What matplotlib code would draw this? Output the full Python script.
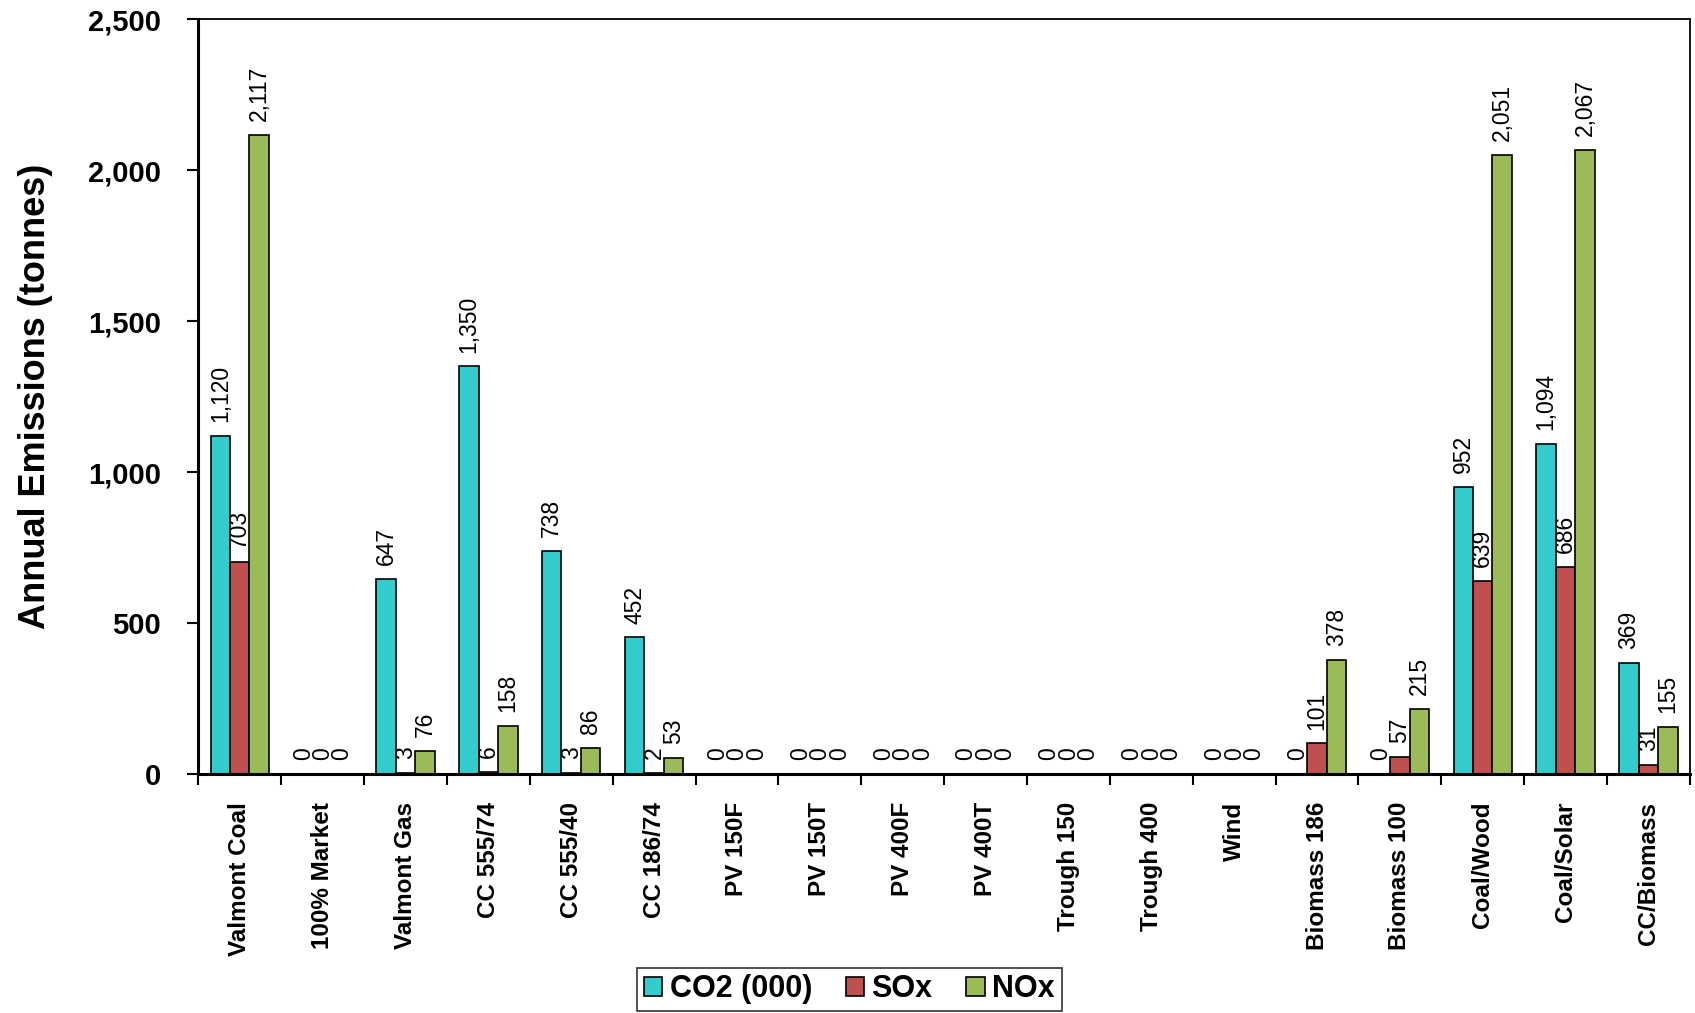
import numpy as np
import matplotlib
import matplotlib.pyplot as plt

matplotlib.use('Agg')

plt.rcParams['font.family'] = ['Liberation Sans', 'DejaVu Sans']

# Annual emissions by supply option
options = ['Valmont Coal', '100% Market', 'Valmont Gas', 'CC 555/74', 'CC 555/40',
           'CC 186/74', 'PV 150F', 'PV 150T', 'PV 400F', 'PV 400T', 'Trough 150',
           'Trough 400', 'Wind', 'Biomass 186', 'Biomass 100', 'Coal/Wood',
           'Coal/Solar', 'CC/Biomass']
co2 = [1120, 0, 647, 1350, 738, 452, 0, 0, 0, 0, 0, 0, 0, 0, 0, 952, 1094, 369]
sox = [703, 0, 3, 6, 3, 2, 0, 0, 0, 0, 0, 0, 0, 101, 57, 639, 686, 31]
nox = [2117, 0, 76, 158, 86, 53, 0, 0, 0, 0, 0, 0, 0, 378, 215, 2051, 2067, 155]

series = [('CO2 (000)', co2, '#33CCCC'),
          ('SOx', sox, '#C0504D'),
          ('NOx', nox, '#9BBB59')]

fig = plt.figure(figsize=(16.95, 10.13), dpi=100)
ax = fig.add_axes([0.117, 0.236, 0.88, 0.745])

x = np.arange(len(options))
w = 0.235
for i, (name, vals, col) in enumerate(series):
    pos = x + (i - 1) * w
    ax.bar(pos, vals, w, color=col, edgecolor='black', linewidth=1.2, label=name)
    for xp, v in zip(pos, vals):
        ax.annotate(f"{v:,}", (xp, v), xytext=(0, 10), textcoords='offset points',
                    rotation=90, ha='center', va='bottom', fontsize=16.5)

ax.set_xlim(-0.5, len(options) - 0.5)
ax.set_ylim(0, 2500)
ax.set_yticks(np.arange(0, 2501, 500))
ax.set_yticklabels([f"{t:,}" for t in range(0, 2501, 500)], fontsize=21, fontweight='bold')
ax.tick_params(axis='y', length=8, width=1.5, pad=19)

ax.set_xticks(x)
ax.set_xticklabels(options, rotation=90, fontsize=17.5, fontweight='bold')
ax.tick_params(axis='x', which='major', length=0, pad=20)
ax.set_xticks(np.arange(-0.5, len(options)), minor=True)
ax.tick_params(axis='x', which='minor', length=8, width=1.5)

for s in ['left', 'bottom']:
    ax.spines[s].set_linewidth(2.2)
for s in ['top', 'right']:
    ax.spines[s].set_linewidth(1.3)

ax.set_ylabel('Annual Emissions (tonnes)', fontsize=26, fontweight='bold', labelpad=25)

leg = fig.legend(loc='lower center', bbox_to_anchor=(0.501, 0.0), ncol=3,
                 prop={'size': 22, 'weight': 'bold'}, fancybox=False,
                 edgecolor='black', handlelength=0.6, handleheight=0.6,
                 handletextpad=0.25, columnspacing=1.1, borderpad=0.22,
                 borderaxespad=0.06)
leg.get_frame().set_linewidth(1.2)

fig.savefig('out.png', dpi=100)
